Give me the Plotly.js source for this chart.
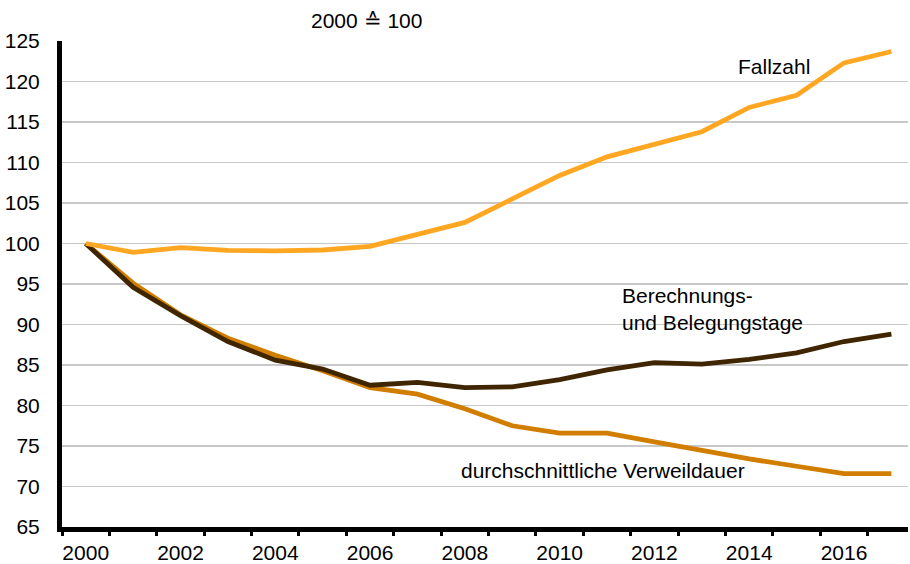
<!DOCTYPE html>
<html>
<head>
<meta charset="utf-8">
<script src="https://cdn.plot.ly/plotly-3.0.1.min.js"></script>
<style>
    body { margin: 0; background: #fff; }
    #indexChart { width: 910px; height: 564px; }
</style>
</head>
<body>
<div id="indexChart"></div>
<script>
// Jahre und Indexwerte (2000 = 100)
const years = [2000, 2001, 2002, 2003, 2004, 2005, 2006, 2007, 2008,
    2009, 2010, 2011, 2012, 2013, 2014, 2015, 2016, 2017];
const fallzahl = [100, 98.9, 99.5, 99.15, 99.1, 99.2, 99.65, 101.1, 102.6,
    105.5, 108.4, 110.7, 112.3, 113.8, 116.8, 118.3, 122.3, 123.7];
const belegungstage = [100, 94.6, 91.1, 87.9, 85.6, 84.5, 82.5, 82.85, 82.2,
    82.3, 83.2, 84.4, 85.3, 85.1, 85.7, 86.5, 87.9, 88.8];
const verweildauer = [100, 95.1, 91.2, 88.3, 86.2, 84.3, 82.2, 81.4, 79.6,
    77.5, 76.6, 76.6, 75.5, 74.4, 73.4, 72.5, 71.6, 71.6];
const yearLabels = [2000, 2002, 2004, 2006, 2008, 2010, 2012, 2014, 2016];

function drawIndexChart() {
    var trace1 = {
        x: years,
        y: verweildauer,
        type: 'scatter',
        mode: 'lines',
        hoverinfo: 'none',
        line: { color: '#d17d00', width: 4.8 },
        name: 'durchschnittliche Verweildauer'
    };

    var trace2 = {
        x: years,
        y: belegungstage,
        type: 'scatter',
        mode: 'lines',
        hoverinfo: 'none',
        line: { color: '#3f2600', width: 4.8 },
        name: 'Berechnungs- und Belegungstage'
    };

    var trace3 = {
        x: years,
        y: fallzahl,
        type: 'scatter',
        mode: 'lines',
        hoverinfo: 'none',
        line: { color: '#ffa722', width: 4.8 },
        name: 'Fallzahl'
    };

    var data = [trace1, trace2, trace3];

    const textFont = { family: 'Liberation Sans, Arial, sans-serif', size: 21, color: '#000' };

    var layout = {
        width: 910,
        height: 564,
        showlegend: false,
        paper_bgcolor: '#fff',
        plot_bgcolor: '#fff',
        font: textFont,
        margin: { l: 62, r: 2, t: 41, b: 37 },
        xaxis: {
            range: [1999.5, 2017.35],
            tickmode: 'array',
            tickvals: yearLabels,
            ticktext: yearLabels.map(String),
            ticks: '',
            showgrid: false,
            zeroline: false,
            showline: true,
            linecolor: '#000',
            linewidth: 5,
            ticklabelstandoff: 3,
            minor: {
                tickmode: 'linear',
                tick0: 1999.5,
                dtick: 1,
                ticks: 'outside',
                ticklen: 4,
                tickwidth: 3,
                tickcolor: '#000',
                showgrid: false
            }
        },
        yaxis: {
            range: [65, 125],
            dtick: 5,
            ticks: '',
            showgrid: true,
            gridcolor: '#c8c8c8',
            gridwidth: 1.5,
            zeroline: false,
            showline: true,
            linecolor: '#000',
            linewidth: 5,
            ticklabelstandoff: 13
        },
        annotations: [
            {
                text: '2000 ≙ 100',
                xref: 'paper', yref: 'paper',
                x: 0.292, y: 1.043,
                xanchor: 'left', yanchor: 'middle',
                showarrow: false
            },
            {
                text: 'Fallzahl',
                xref: 'paper', yref: 'paper',
                x: 0.797, y: 0.947,
                xanchor: 'left', yanchor: 'middle',
                showarrow: false
            },
            {
                text: 'Berechnungs-<br>und Belegungstage',
                xref: 'paper', yref: 'paper',
                x: 0.66, y: 0.449,
                xanchor: 'left', yanchor: 'middle',
                align: 'left',
                showarrow: false
            },
            {
                text: 'durchschnittliche Verweildauer',
                xref: 'paper', yref: 'paper',
                x: 0.469, y: 0.117,
                xanchor: 'left', yanchor: 'middle',
                showarrow: false
            }
        ]
    };

    Plotly.newPlot('indexChart', data, layout, { staticPlot: true });
}

drawIndexChart();
</script>
</body>
</html>
